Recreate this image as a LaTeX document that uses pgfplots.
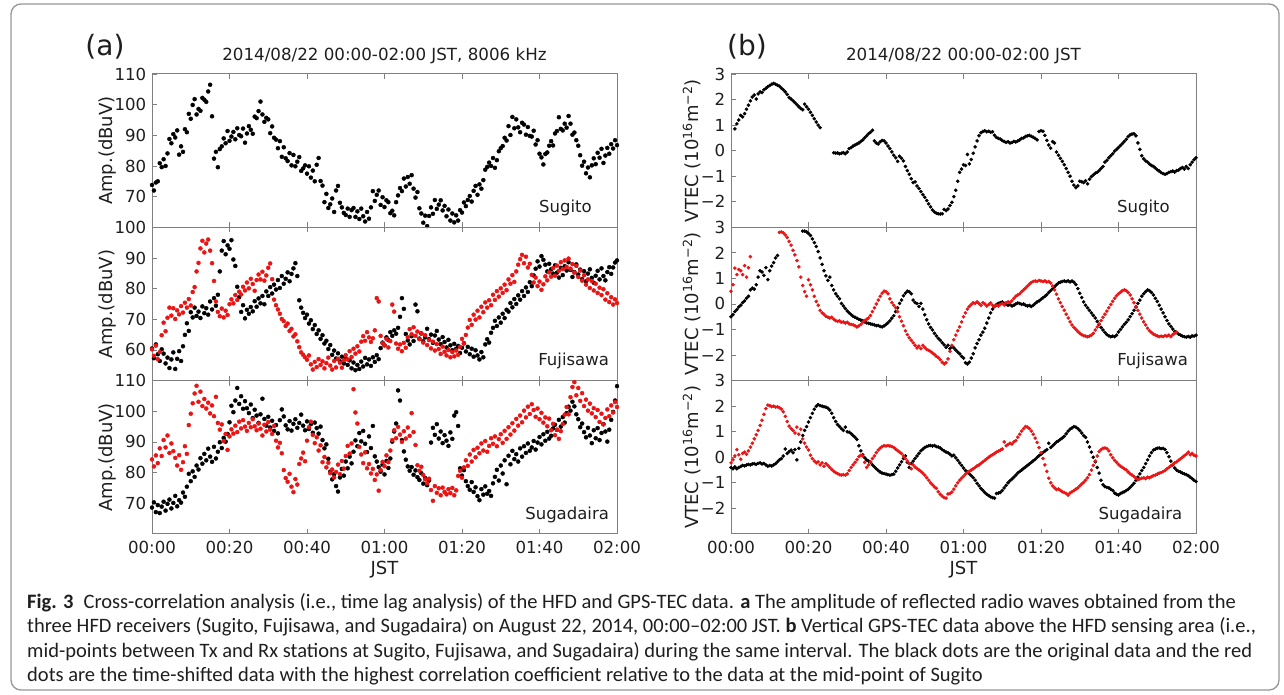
\documentclass[border=0pt]{standalone}
\usepackage{pgfplots}
\pgfplotsset{compat=1.18}
\usepackage{fontspec}
\setmainfont{DejaVu Sans}
\newfontfamily\capfont{Carlito}
\definecolor{axgray}{RGB}{128,128,128}
\definecolor{txt}{RGB}{30,30,30}
\definecolor{frm}{RGB}{150,150,150}
\definecolor{dred}{RGB}{235,20,20}
\newcommand\tk{\fontsize{16.6}{19}\selectfont}
\newcommand\lb{\fontsize{18}{21}\selectfont}
\newcommand\st{\fontsize{16.5}{19}\selectfont}
\newcommand\ttl{\fontsize{16.7}{19}\selectfont}
\tikzset{stn/.style={anchor=east, font=\st, text=txt, inner sep=0pt}}
\pgfplotsset{
 panel/.style={scale only axis, width=465pt, height=153.3pt, anchor=north west,
   xmin=0, xmax=120, xtick={0,20,40,60,80,100,120}, xticklabels={},
   /pgf/number format/assume math mode=true,
   axis line style={draw=axgray, line width=1pt},
   tick style={draw=axgray, line width=0.8pt},
   major tick length=5pt, tick align=inside, xtick pos=both, ytick pos=left,
   tick label style={font=\tk, text=txt, inner sep=0pt},
   yticklabel style={xshift=-5.5pt}, xticklabel style={yshift=-7pt},
   label style={font=\lb, text=txt, inner sep=0pt},
   title style={font=\ttl, text=txt, at={(axis description cs:0.5,1)}, anchor=south, yshift=4pt, inner sep=0pt},
 },
 apanel/.style={panel, ylabel={Amp.(dBuV)}, ylabel style={at={(axis description cs:-0.0946,0.5)}, anchor=center}},
 bpanel/.style={panel, ymin=-3, ymax=3, ytick={-2,-1,0,1,2,3}, yticklabels={−2,−1,0,1,2,3},
   ylabel={VTEC (10\textsuperscript{16}m\textsuperscript{−2})}, ylabel style={at={(axis description cs:-0.0845,0.5)}, anchor=center}},
 bottompanel/.style={xticklabels={00:00,00:20,00:40,01:00,01:20,01:40,02:00}, xlabel={JST},
   xlabel style={at={(axis description cs:0.5,0)}, anchor=north, yshift=-27.5pt}},
 blk/.style={only marks, mark=*, mark size=2.0pt, color=black},
 rd/.style={only marks, mark=*, mark size=2.0pt, color=dred},
 blkb/.style={only marks, mark=*, mark size=1.6pt, color=black},
 rdb/.style={only marks, mark=*, mark size=1.6pt, color=dred},
}
\begin{document}
\begin{tikzpicture}
\useasboundingbox (0,0) rectangle (1284pt,-695pt);
\draw[frm, line width=1.3pt, rounded corners=10pt] (11pt,-4pt) rectangle (1279pt,-690pt);
\node[font=\fontsize{28}{32}\selectfont, text=txt] at (105pt,-47pt) {(a)};
\node[font=\fontsize{28}{32}\selectfont, text=txt] at (747pt,-47pt) {(b)};

% ---------------- (a) Sugito
\begin{axis}[apanel, at={(152pt,-74pt)}, ymin=60, ymax=110, ytick={70,80,90,100,110},
  title={2014/08/22 00:00-02:00 JST, 8006 kHz}]
\addplot[blk] table[row sep=\\]{x y\\
0 73.8\\ 0.5 72.0\\ 1 74.6\\ 1.5 75.0\\ 2 80.9\\ 2.5 79.6\\ 3 82.2\\ 3.5 80.0\\ 4 84.1\\ 4.5 88.8\\ 5 87.4\\ 5.5 90.4\\ 6 89.3\\ 6.5 91.6\\ 7 83.7\\ 7.5 86.4\\ 8 84.6\\ 8.5 92.0\\ 9 91.0\\ 9.5 97.0\\ 10 95.4\\ 10.5 99.9\\ 11 101.8\\ 11.5 96.8\\ 12 98.6\\ 12.5 98.0\\ 13 102.2\\ 13.5 101.6\\ 14 100.9\\ 14.5 104.3\\ 15 106.5\\ 15.5 96.2\\ 16 82.4\\ 16.5 84.6\\ 17 79.6\\ 17.5 85.5\\ 18 86.4\\ 18.5 89.0\\ 19 87.4\\ 19.5 91.4\\ 20 88.2\\ 20.5 89.6\\ 21 91.1\\ 21.5 88.7\\ 22 92.3\\ 22.5 90.1\\ 23 89.7\\ 23.5 92.2\\ 24 87.6\\ 24.5 90.6\\ 25 93.0\\ 25.5 91.8\\ 26 90.5\\ 26.5 96.1\\ 27 95.6\\ 27.5 97.9\\ 28 101.0\\ 28.5 96.8\\ 29 94.4\\ 29.5 95.7\\ 30 95.2\\ 30.5 90.7\\ 31 92.9\\ 31.5 89.2\\ 32 88.6\\ 32.5 85.8\\ 33 88.1\\ 33.5 83.0\\ 34 86.1\\ 34.5 82.5\\ 35 81.6\\ 35.5 84.2\\ 36 80.2\\ 36.5 83.6\\ 37 79.9\\ 37.5 81.4\\ 38 82.9\\ 38.5 78.4\\ 39 79.2\\ 39.5 80.2\\ 40 77.5\\ 40.5 79.9\\ 41 76.2\\ 41.5 78.5\\ 42 75.0\\ 42.5 80.4\\ 43 82.6\\ 43.5 75.1\\ 44 73.6\\ 44.5 68.2\\ 45 70.9\\ 45.5 66.3\\ 46 67.5\\ 46.5 69.4\\ 47 65.0\\ 47.5 72.0\\ 48 73.5\\ 48.5 68.0\\ 49 66.5\\ 49.5 64.7\\ 50 64.0\\ 50.5 66.1\\ 51 63.4\\ 51.5 65.6\\ 52 66.3\\ 52.5 63.4\\ 53 65.2\\ 53.5 62.7\\ 54 66.1\\ 54.5 63.6\\ 55 61.9\\ 55.5 65.0\\ 56 62.8\\ 56.5 66.5\\ 57 71.8\\ 57.5 68.6\\ 58 70.6\\ 58.5 72.0\\ 59 67.3\\ 59.5 69.8\\ 60 66.6\\ 60.5 68.8\\ 61 68.2\\ 61.5 64.6\\ 62 65.4\\ 62.5 63.9\\ 63 68.2\\ 63.5 70.4\\ 64 72.8\\ 64.5 71.8\\ 65 75.9\\ 65.5 73.3\\ 66 76.4\\ 66.5 74.2\\ 67 77.0\\ 67.5 72.6\\ 68 69.7\\ 68.5 71.5\\ 69 66.2\\ 69.5 64.5\\ 70 61.5\\ 70.5 63.8\\ 71 60.4\\ 71.5 63.7\\ 72 66.5\\ 72.5 64.4\\ 73 68.9\\ 73.5 66.0\\ 74 67.4\\ 74.5 68.8\\ 75 65.5\\ 75.5 67.0\\ 76 63.6\\ 76.5 65.8\\ 77 62.2\\ 77.5 64.5\\ 78 61.6\\ 78.5 63.9\\ 79 62.2\\ 79.5 65.6\\ 80 64.8\\ 80.5 68.1\\ 81 66.9\\ 81.5 68.9\\ 82 70.2\\ 82.5 68.4\\ 83 71.9\\ 83.5 73.5\\ 84 70.6\\ 84.5 74.0\\ 85 72.6\\ 85.5 75.4\\ 86 78.8\\ 86.5 79.7\\ 87 81.1\\ 87.5 80.0\\ 88 82.6\\ 88.5 79.4\\ 89 81.9\\ 89.5 84.8\\ 90 85.8\\ 90.5 86.5\\ 91 89.2\\ 91.5 88.3\\ 92 93.0\\ 92.5 90.1\\ 93 96.0\\ 93.5 92.3\\ 94 95.2\\ 94.5 92.6\\ 95 91.0\\ 95.5 94.1\\ 96 93.5\\ 96.5 90.2\\ 97 92.7\\ 97.5 89.8\\ 98 89.6\\ 98.5 91.5\\ 99 87.0\\ 99.5 88.4\\ 100 84.0\\ 100.5 82.8\\ 101 80.5\\ 101.5 83.9\\ 102 84.4\\ 102.5 86.6\\ 103 88.1\\ 103.5 86.7\\ 104 90.6\\ 104.5 91.4\\ 105 95.9\\ 105.5 92.1\\ 106 91.6\\ 106.5 93.8\\ 107 92.5\\ 107.5 96.3\\ 108 93.8\\ 108.5 90.2\\ 109 90.9\\ 109.5 88.4\\ 110 86.6\\ 110.5 83.5\\ 111 80.1\\ 111.5 81.4\\ 112 77.6\\ 112.5 79.5\\ 113 76.3\\ 113.5 80.2\\ 114 82.5\\ 114.5 80.6\\ 115 84.3\\ 115.5 82.7\\ 116 85.6\\ 116.5 81.0\\ 117 83.4\\ 117.5 85.9\\ 118 84.0\\ 118.5 87.1\\ 119 85.7\\ 119.5 88.4\\ 120 86.8\\
};
\node[stn] at (rel axis cs:0.946,0.125) {Sugito};
\end{axis}

% ---------------- (a) Fujisawa
\begin{axis}[apanel, at={(152pt,-227.3pt)}, ymin=50, ymax=100, ytick={60,70,80,90,100}]
\addplot[blk] table[row sep=\\]{x y\\
0 60.5\\ 0.5 57.3\\ 1 61.8\\ 1.5 58.6\\ 2 56.4\\ 2.5 60.2\\ 3 58.8\\ 3.5 55.6\\ 4 57.5\\ 4.5 54.1\\ 5 56.9\\ 5.5 59.2\\ 6 53.8\\ 6.5 57.1\\ 7 59.6\\ 7.5 56.4\\ 8 61.2\\ 8.5 64.9\\ 9 68.7\\ 9.5 66.2\\ 10 72.3\\ 10.5 70.6\\ 11 73.8\\ 11.5 71.1\\ 12 72.5\\ 12.5 70.4\\ 13 74.2\\ 13.5 72.0\\ 14 73.6\\ 14.5 71.5\\ 15 75.8\\ 15.5 73.2\\ 16 76.9\\ 16.5 74.4\\ 17 78.0\\ 17.5 85.6\\ 18 92.4\\ 18.5 95.5\\ 19 91.2\\ 19.5 94.1\\ 20 93.0\\ 20.5 95.8\\ 21 89.5\\ 21.5 87.4\\ 22 80.6\\ 22.5 77.2\\ 23 72.4\\ 23.5 74.6\\ 24 70.3\\ 24.5 73.1\\ 25 71.8\\ 25.5 74.0\\ 26 72.6\\ 26.5 75.9\\ 27 74.1\\ 27.5 76.8\\ 28 75.2\\ 28.5 77.6\\ 29 74.9\\ 29.5 79.1\\ 30 77.6\\ 30.5 80.5\\ 31 78.4\\ 31.5 81.3\\ 32 79.7\\ 32.5 82.8\\ 33 80.2\\ 33.5 84.1\\ 34 81.6\\ 34.5 83.2\\ 35 85.3\\ 35.5 82.4\\ 36 84.8\\ 36.5 86.6\\ 37 88.3\\ 37.5 84.1\\ 38 76.2\\ 38.5 73.8\\ 39 72.1\\ 39.5 70.4\\ 40 71.5\\ 40.5 68.6\\ 41 69.7\\ 41.5 66.8\\ 42 68.1\\ 42.5 65.2\\ 43 66.4\\ 43.5 63.6\\ 44 64.8\\ 44.5 62.1\\ 45 63.0\\ 45.5 60.3\\ 46 61.6\\ 46.5 58.4\\ 47 59.8\\ 47.5 57.2\\ 48 58.9\\ 48.5 56.3\\ 49 57.8\\ 49.5 55.6\\ 50 57.2\\ 50.5 55.1\\ 51 56.6\\ 51.5 54.0\\ 52 55.9\\ 52.5 53.4\\ 53 55.1\\ 53.5 53.8\\ 54 56.2\\ 54.5 54.6\\ 55 57.4\\ 55.5 55.3\\ 56 56.9\\ 56.5 54.8\\ 57 57.6\\ 57.5 56.1\\ 58 58.3\\ 58.5 57.0\\ 59 60.6\\ 59.5 62.4\\ 60 61.5\\ 60.5 64.1\\ 61 63.2\\ 61.5 65.8\\ 62 64.6\\ 62.5 66.4\\ 63 65.3\\ 63.5 67.2\\ 64 70.8\\ 64.5 76.9\\ 65 73.4\\ 65.5 65.2\\ 66 63.1\\ 66.5 61.8\\ 67 64.5\\ 67.5 62.9\\ 68 74.8\\ 68.5 72.6\\ 69 63.7\\ 69.5 65.4\\ 70 62.8\\ 70.5 64.1\\ 71 66.9\\ 71.5 63.5\\ 72 65.0\\ 72.5 62.3\\ 73 64.7\\ 73.5 66.2\\ 74 63.4\\ 74.5 61.9\\ 75 64.2\\ 75.5 62.6\\ 76 60.8\\ 76.5 63.3\\ 77 61.5\\ 77.5 59.9\\ 78 62.0\\ 78.5 60.4\\ 79 61.3\\ 79.5 59.0\\ 80 60.7\\ 80.5 62.2\\ 81 59.5\\ 81.5 61.0\\ 82 58.6\\ 82.5 60.4\\ 83 57.8\\ 83.5 59.9\\ 84 58.2\\ 84.5 56.9\\ 85 59.3\\ 85.5 57.6\\ 86 61.8\\ 86.5 63.5\\ 87 62.4\\ 87.5 65.6\\ 88 67.2\\ 88.5 69.5\\ 89 67.8\\ 89.5 70.6\\ 90 68.9\\ 90.5 71.8\\ 91 70.4\\ 91.5 73.1\\ 92 72.5\\ 92.5 75.3\\ 93 73.9\\ 93.5 76.6\\ 94 75.0\\ 94.5 77.8\\ 95 76.4\\ 95.5 79.2\\ 96 77.6\\ 96.5 80.4\\ 97 78.9\\ 97.5 82.1\\ 98 80.8\\ 98.5 84.3\\ 99 86.5\\ 99.5 88.9\\ 100 87.2\\ 100.5 90.6\\ 101 89.4\\ 101.5 87.8\\ 102 85.6\\ 102.5 88.1\\ 103 86.3\\ 103.5 84.9\\ 104 87.6\\ 104.5 85.2\\ 105 83.6\\ 105.5 86.8\\ 106 84.4\\ 106.5 87.3\\ 107 85.9\\ 107.5 88.6\\ 108 86.1\\ 108.5 83.8\\ 109 85.4\\ 109.5 87.9\\ 110 84.6\\ 110.5 86.2\\ 111 83.1\\ 111.5 85.7\\ 112 82.4\\ 112.5 84.9\\ 113 86.3\\ 113.5 83.5\\ 114 81.9\\ 114.5 84.2\\ 115 85.8\\ 115.5 83.0\\ 116 86.6\\ 116.5 84.1\\ 117 82.7\\ 117.5 85.4\\ 118 87.0\\ 118.5 84.8\\ 119 86.9\\ 119.5 88.5\\ 120 89.2\\
};
\addplot[rd] table[row sep=\\]{x y\\
0 60.2\\ 0.5 58.1\\ 1 61.4\\ 1.5 57.0\\ 2 59.3\\ 2.5 64.8\\ 3 68.9\\ 3.5 66.1\\ 4 70.5\\ 4.5 73.8\\ 5 71.2\\ 5.5 73.6\\ 6 70.1\\ 6.5 72.9\\ 7 71.6\\ 7.5 74.3\\ 8 72.2\\ 8.5 75.4\\ 9 73.8\\ 9.5 76.6\\ 10 74.5\\ 10.5 78.9\\ 11 80.5\\ 11.5 85.6\\ 12 88.4\\ 12.5 93.1\\ 13 95.6\\ 13.5 91.8\\ 14 94.7\\ 14.5 96.0\\ 15 92.4\\ 15.5 88.3\\ 16 82.5\\ 16.5 75.8\\ 17 72.4\\ 17.5 71.0\\ 18 73.5\\ 18.5 70.6\\ 19 72.8\\ 19.5 71.4\\ 20 74.9\\ 20.5 76.5\\ 21 75.2\\ 21.5 77.9\\ 22 76.3\\ 22.5 79.0\\ 23 78.1\\ 23.5 80.6\\ 24 79.4\\ 24.5 82.0\\ 25 80.1\\ 25.5 83.2\\ 26 81.5\\ 26.5 79.3\\ 27 82.8\\ 27.5 84.6\\ 28 83.0\\ 28.5 85.5\\ 29 82.6\\ 29.5 84.3\\ 30 86.8\\ 30.5 88.2\\ 31 83.1\\ 31.5 76.4\\ 32 74.6\\ 32.5 73.2\\ 33 71.8\\ 33.5 70.1\\ 34 69.4\\ 34.5 67.8\\ 35 68.6\\ 35.5 66.2\\ 36 66.9\\ 36.5 64.4\\ 37 65.1\\ 37.5 62.8\\ 38 60.9\\ 38.5 59.2\\ 39 58.4\\ 39.5 57.6\\ 40 56.8\\ 40.5 58.2\\ 41 55.3\\ 41.5 53.6\\ 42 56.1\\ 42.5 54.4\\ 43 57.0\\ 43.5 55.1\\ 44 56.3\\ 44.5 54.0\\ 45 55.7\\ 45.5 57.5\\ 46 54.9\\ 46.5 53.6\\ 47 56.4\\ 47.5 54.3\\ 48 57.1\\ 48.5 55.8\\ 49 54.2\\ 49.5 56.6\\ 50 58.3\\ 50.5 56.9\\ 51 59.6\\ 51.5 57.7\\ 52 60.4\\ 52.5 58.8\\ 53 61.2\\ 53.5 59.5\\ 54 62.7\\ 54.5 64.5\\ 55 63.0\\ 55.5 65.8\\ 56 64.1\\ 56.5 62.6\\ 57 63.8\\ 57.5 66.4\\ 58 76.9\\ 58.5 75.8\\ 59 64.6\\ 59.5 62.2\\ 60 61.5\\ 60.5 63.6\\ 61 60.8\\ 61.5 62.9\\ 62 74.8\\ 62.5 72.5\\ 63 62.1\\ 63.5 60.4\\ 64 61.8\\ 64.5 59.6\\ 65 62.3\\ 65.5 60.7\\ 66 64.2\\ 66.5 66.8\\ 67 65.1\\ 67.5 67.4\\ 68 64.6\\ 68.5 66.0\\ 69 63.5\\ 69.5 65.3\\ 70 62.4\\ 70.5 64.8\\ 71 61.6\\ 71.5 63.2\\ 72 60.5\\ 72.5 62.7\\ 73 59.8\\ 73.5 61.9\\ 74 60.3\\ 74.5 58.7\\ 75 61.1\\ 75.5 59.4\\ 76 58.2\\ 76.5 60.0\\ 77 57.6\\ 77.5 59.3\\ 78 57.9\\ 78.5 59.8\\ 79 58.4\\ 79.5 61.0\\ 80 63.6\\ 80.5 62.1\\ 81 64.9\\ 81.5 67.3\\ 82 69.8\\ 82.5 68.2\\ 83 71.5\\ 83.5 69.9\\ 84 72.8\\ 84.5 70.6\\ 85 74.1\\ 85.5 72.3\\ 86 75.5\\ 86.5 73.8\\ 87 76.2\\ 87.5 74.6\\ 88 78.0\\ 88.5 76.3\\ 89 79.2\\ 89.5 77.4\\ 90 80.1\\ 90.5 78.6\\ 91 81.3\\ 91.5 79.5\\ 92 83.0\\ 92.5 81.6\\ 93 84.4\\ 93.5 82.2\\ 94 85.6\\ 94.5 87.8\\ 95 89.6\\ 95.5 91.0\\ 96 88.3\\ 96.5 90.4\\ 97 86.9\\ 97.5 88.1\\ 98 84.5\\ 98.5 82.0\\ 99 83.6\\ 99.5 80.8\\ 100 82.3\\ 100.5 79.6\\ 101 81.4\\ 101.5 84.0\\ 102 82.7\\ 102.5 85.3\\ 103 83.9\\ 103.5 86.7\\ 104 84.2\\ 104.5 87.5\\ 105 85.8\\ 105.5 88.6\\ 106 86.4\\ 106.5 89.2\\ 107 87.1\\ 107.5 89.8\\ 108 86.5\\ 108.5 88.0\\ 109 85.2\\ 109.5 87.4\\ 110 83.8\\ 110.5 85.9\\ 111 82.6\\ 111.5 84.4\\ 112 81.3\\ 112.5 83.0\\ 113 80.2\\ 113.5 82.5\\ 114 79.4\\ 114.5 81.6\\ 115 78.6\\ 115.5 80.3\\ 116 77.9\\ 116.5 79.8\\ 117 76.4\\ 117.5 78.5\\ 118 75.6\\ 118.5 77.2\\ 119 74.8\\ 119.5 76.5\\ 120 75.3\\
};
\node[stn] at (rel axis cs:0.983,0.125) {Fujisawa};
\end{axis}

% ---------------- (a) Sugadaira
\begin{axis}[apanel, bottompanel, at={(152pt,-380.6pt)}, ymin=60, ymax=110, ytick={70,80,90,100,110}]
\addplot[blk] table[row sep=\\]{x y\\
0 68.6\\ 0.5 70.3\\ 1 67.1\\ 1.5 69.4\\ 2 66.8\\ 2.5 68.9\\ 3 70.5\\ 3.5 67.6\\ 4 69.8\\ 4.5 71.2\\ 5 68.3\\ 5.5 70.1\\ 6 72.4\\ 6.5 69.0\\ 7 71.0\\ 7.5 70.2\\ 8 73.5\\ 8.5 72.1\\ 9 75.4\\ 9.5 79.6\\ 10 77.2\\ 10.5 80.4\\ 11 78.6\\ 11.5 82.3\\ 12 81.0\\ 12.5 84.7\\ 13 82.9\\ 13.5 86.1\\ 14 84.0\\ 14.5 87.8\\ 15 85.2\\ 15.5 83.5\\ 16 88.4\\ 16.5 84.6\\ 17 86.8\\ 17.5 89.9\\ 18 88.0\\ 18.5 91.3\\ 19 90.1\\ 19.5 92.6\\ 20 96.4\\ 20.5 101.8\\ 21 99.7\\ 21.5 103.5\\ 22 107.6\\ 22.5 102.4\\ 23 104.9\\ 23.5 100.8\\ 24 103.3\\ 24.5 101.0\\ 25 99.4\\ 25.5 102.2\\ 26 97.8\\ 26.5 100.5\\ 27 98.6\\ 27.5 96.2\\ 28 99.0\\ 28.5 104.1\\ 29 97.5\\ 29.5 95.3\\ 30 98.2\\ 30.5 94.7\\ 31 96.9\\ 31.5 93.6\\ 32 95.5\\ 32.5 92.8\\ 33 97.1\\ 33.5 100.6\\ 34 98.3\\ 34.5 95.4\\ 35 94.1\\ 35.5 96.8\\ 36 93.7\\ 36.5 95.9\\ 37 97.4\\ 37.5 94.6\\ 38 96.2\\ 38.5 98.9\\ 39 95.3\\ 39.5 93.8\\ 40 96.7\\ 40.5 94.2\\ 41 95.8\\ 41.5 93.0\\ 42 96.3\\ 42.5 94.5\\ 43 92.7\\ 43.5 95.0\\ 44 90.6\\ 44.5 87.9\\ 45 89.2\\ 45.5 84.5\\ 46 80.3\\ 46.5 77.8\\ 47 79.5\\ 47.5 75.6\\ 48 73.8\\ 48.5 78.4\\ 49 81.2\\ 49.5 79.0\\ 50 83.6\\ 50.5 81.4\\ 51 85.2\\ 51.5 83.0\\ 52 86.8\\ 52.5 90.5\\ 53 88.6\\ 53.5 92.9\\ 54 90.2\\ 54.5 93.6\\ 55 89.4\\ 55.5 86.7\\ 56 91.8\\ 56.5 88.0\\ 57 95.2\\ 57.5 85.3\\ 58 83.6\\ 58.5 81.8\\ 59 80.3\\ 59.5 82.6\\ 60 79.4\\ 60.5 83.8\\ 61 81.5\\ 61.5 84.6\\ 62 90.1\\ 62.5 93.4\\ 63 96.0\\ 63.5 106.8\\ 64 103.5\\ 64.5 90.6\\ 65 86.9\\ 65.5 84.2\\ 66 82.0\\ 66.5 80.6\\ 67 81.8\\ 67.5 79.3\\ 68 80.7\\ 68.5 78.5\\ 69 77.6\\ 69.5 79.8\\ 70 76.4\\ 70.5 78.2\\ 71 75.9\\ 71.5 77.4\\ 72 89.8\\ 72.5 94.6\\ 73 92.3\\ 73.5 95.8\\ 74 91.1\\ 74.5 93.4\\ 75 89.6\\ 75.5 92.2\\ 76 90.4\\ 76.5 88.7\\ 77 93.1\\ 77.5 91.0\\ 78 98.6\\ 78.5 99.7\\ 79 95.2\\ 79.5 81.4\\ 80 79.0\\ 80.5 80.8\\ 81 77.2\\ 81.5 75.6\\ 82 74.4\\ 82.5 76.9\\ 83 73.7\\ 83.5 75.2\\ 84 72.3\\ 84.5 71.0\\ 85 74.6\\ 85.5 72.8\\ 86 75.5\\ 86.5 73.1\\ 87 74.0\\ 87.5 72.4\\ 88 76.5\\ 88.5 78.6\\ 89 80.9\\ 89.5 77.4\\ 90 82.3\\ 90.5 79.7\\ 91 84.0\\ 91.5 76.2\\ 92 85.5\\ 92.5 82.7\\ 93 87.1\\ 93.5 84.4\\ 94 86.0\\ 94.5 83.6\\ 95 87.9\\ 95.5 85.2\\ 96 88.6\\ 96.5 86.4\\ 97 89.5\\ 97.5 87.1\\ 98 88.2\\ 98.5 90.3\\ 99 87.5\\ 99.5 89.8\\ 100 91.6\\ 100.5 89.2\\ 101 92.5\\ 101.5 90.4\\ 102 93.3\\ 102.5 91.1\\ 103 92.0\\ 103.5 94.4\\ 104 95.6\\ 104.5 93.9\\ 105 97.2\\ 105.5 95.0\\ 106 98.1\\ 106.5 96.3\\ 107 99.4\\ 107.5 101.5\\ 108 100.2\\ 108.5 103.1\\ 109 101.6\\ 109.5 99.0\\ 110 97.4\\ 110.5 94.8\\ 111 96.0\\ 111.5 93.2\\ 112 91.5\\ 112.5 94.6\\ 113 92.1\\ 113.5 89.6\\ 114 93.8\\ 114.5 91.2\\ 115 94.5\\ 115.5 90.6\\ 116 92.9\\ 116.5 95.8\\ 117 93.4\\ 117.5 90.1\\ 118 94.0\\ 118.5 97.2\\ 119 99.8\\ 119.5 103.5\\ 120 108.2\\
};
\addplot[rd] table[row sep=\\]{x y\\
0 84.3\\ 0.5 82.0\\ 1 85.6\\ 1.5 83.1\\ 2 87.9\\ 2.5 85.4\\ 3 90.6\\ 3.5 88.2\\ 4 92.1\\ 4.5 86.4\\ 5 89.5\\ 5.5 87.0\\ 6 84.8\\ 6.5 82.3\\ 7 85.7\\ 7.5 80.9\\ 8 83.4\\ 8.5 88.6\\ 9 86.1\\ 9.5 95.5\\ 10 99.2\\ 10.5 102.6\\ 11 105.8\\ 11.5 108.3\\ 12 103.1\\ 12.5 106.4\\ 13 101.7\\ 13.5 104.0\\ 14 100.9\\ 14.5 102.8\\ 15 99.3\\ 15.5 101.9\\ 16 98.4\\ 16.5 104.7\\ 17 96.2\\ 17.5 94.0\\ 18 95.7\\ 18.5 90.3\\ 19 92.6\\ 19.5 87.4\\ 20 91.8\\ 20.5 94.1\\ 21 92.7\\ 21.5 95.3\\ 22 93.2\\ 22.5 96.6\\ 23 94.4\\ 23.5 97.1\\ 24 95.0\\ 24.5 93.6\\ 25 96.2\\ 25.5 94.8\\ 26 97.4\\ 26.5 95.1\\ 27 93.8\\ 27.5 96.0\\ 28 94.3\\ 28.5 92.1\\ 29 95.6\\ 29.5 93.4\\ 30 96.5\\ 30.5 94.0\\ 31 92.6\\ 31.5 95.2\\ 32 90.4\\ 32.5 88.2\\ 33 89.7\\ 33.5 86.3\\ 34 80.8\\ 34.5 78.2\\ 35 77.0\\ 35.5 79.6\\ 36 75.4\\ 36.5 73.6\\ 37 77.9\\ 37.5 76.1\\ 38 82.8\\ 38.5 84.6\\ 39 86.5\\ 39.5 83.7\\ 40 90.4\\ 40.5 94.8\\ 41 96.6\\ 41.5 92.3\\ 42 89.6\\ 42.5 91.5\\ 43 87.2\\ 43.5 88.9\\ 44 83.4\\ 44.5 85.1\\ 45 81.7\\ 45.5 83.2\\ 46 79.8\\ 46.5 81.0\\ 47 78.4\\ 47.5 80.2\\ 48 82.6\\ 48.5 79.5\\ 49 83.8\\ 49.5 81.3\\ 50 85.4\\ 50.5 88.7\\ 51 86.2\\ 51.5 89.5\\ 52 107.2\\ 52.5 99.6\\ 53 96.0\\ 53.5 88.4\\ 54 85.9\\ 54.5 83.1\\ 55 86.6\\ 55.5 81.4\\ 56 82.8\\ 56.5 79.7\\ 57 81.2\\ 57.5 77.6\\ 58 79.4\\ 58.5 74.1\\ 59 80.8\\ 59.5 83.5\\ 60 82.1\\ 60.5 85.6\\ 61 83.4\\ 61.5 87.2\\ 62 90.6\\ 62.5 93.8\\ 63 91.2\\ 63.5 94.9\\ 64 92.4\\ 64.5 90.0\\ 65 93.5\\ 65.5 91.1\\ 66 94.7\\ 66.5 92.0\\ 67 99.4\\ 67.5 93.2\\ 68 89.0\\ 68.5 82.4\\ 69 80.6\\ 69.5 81.9\\ 70 79.2\\ 70.5 77.8\\ 71 76.5\\ 71.5 78.0\\ 72 74.3\\ 72.5 70.8\\ 73 75.6\\ 73.5 73.4\\ 74 74.9\\ 74.5 72.6\\ 75 75.1\\ 75.5 73.7\\ 76 72.9\\ 76.5 74.6\\ 77 73.3\\ 77.5 75.0\\ 78 72.6\\ 78.5 74.2\\ 79 78.9\\ 79.5 80.6\\ 80 78.3\\ 80.5 81.7\\ 81 84.0\\ 81.5 82.2\\ 82 85.9\\ 82.5 83.6\\ 83 87.4\\ 83.5 85.0\\ 84 88.1\\ 84.5 86.3\\ 85 89.5\\ 85.5 87.2\\ 86 90.3\\ 86.5 86.8\\ 87 88.7\\ 87.5 91.2\\ 88 89.4\\ 88.5 91.8\\ 89 88.6\\ 89.5 90.9\\ 90 92.5\\ 90.5 89.7\\ 91 93.6\\ 91.5 91.0\\ 92 94.8\\ 92.5 92.4\\ 93 96.1\\ 93.5 93.7\\ 94 97.5\\ 94.5 95.3\\ 95 98.6\\ 95.5 96.4\\ 96 100.2\\ 96.5 98.0\\ 97 101.5\\ 97.5 99.1\\ 98 102.3\\ 98.5 100.4\\ 99 98.2\\ 99.5 100.9\\ 100 97.4\\ 100.5 99.5\\ 101 96.3\\ 101.5 98.0\\ 102 95.1\\ 102.5 97.6\\ 103 93.8\\ 103.5 95.9\\ 104 92.2\\ 104.5 94.0\\ 105 91.0\\ 105.5 93.5\\ 106 95.8\\ 106.5 98.9\\ 107 101.4\\ 107.5 99.0\\ 108 104.6\\ 108.5 107.9\\ 109 109.5\\ 109.5 105.2\\ 110 107.6\\ 110.5 103.4\\ 111 105.9\\ 111.5 101.7\\ 112 103.8\\ 112.5 100.2\\ 113 102.5\\ 113.5 99.3\\ 114 101.0\\ 114.5 98.1\\ 115 100.4\\ 115.5 96.5\\ 116 99.2\\ 116.5 95.7\\ 117 97.8\\ 117.5 100.6\\ 118 98.4\\ 118.5 101.9\\ 119 99.6\\ 119.5 103.0\\ 120 101.4\\
};
\node[stn] at (rel axis cs:0.983,0.125) {Sugadaira};
\end{axis}

% ---------------- (b) Sugito
\begin{axis}[bpanel, at={(731pt,-74pt)}, title={2014/08/22 00:00-02:00 JST}]
\addplot[blkb] table[row sep=\\]{x y\\
1 0.85\\ 1.5 1.05\\ 2 1.20\\ 2.5 1.38\\ 3 1.32\\ 3.5 1.45\\ 4 1.62\\ 4.5 1.78\\ 5 1.95\\ 5.5 2.10\\ 6 2.18\\ 6.5 2.02\\ 7 2.22\\ 7.5 2.30\\ 8 2.28\\ 8.5 2.38\\ 9 2.44\\ 9.5 2.50\\ 10 2.55\\ 10.5 2.60\\ 11 2.63\\ 11.5 2.60\\ 12 2.56\\ 12.5 2.52\\ 13 2.45\\ 13.5 2.38\\ 14 2.30\\ 14.5 2.20\\ 15 2.08\\ 15.5 2.02\\ 16 1.95\\ 16.5 1.88\\ 17 1.80\\ 17.5 1.72\\ 18 1.65\\ 18.5 1.60\\ 19 1.82\\ 19.5 1.72\\ 20 1.62\\ 20.5 1.50\\ 21 1.38\\ 21.5 1.25\\ 22 1.12\\ 22.5 1.00\\ 23 0.90\\
26.5 -0.08\\ 27 -0.10\\ 27.5 -0.09\\ 28 -0.12\\ 28.5 -0.10\\ 29 -0.08\\ 29.5 -0.12\\ 30 -0.05\\ 30.5 0.08\\ 31 0.12\\ 31.5 0.18\\ 32 0.22\\ 32.5 0.26\\ 33 0.30\\ 33.5 0.36\\ 34 0.42\\ 34.5 0.50\\ 35 0.58\\ 35.5 0.66\\ 36 0.72\\ 36.5 0.80\\ 37 0.38\\ 37.5 0.30\\ 38 0.26\\ 38.5 0.35\\ 39 0.40\\ 39.5 0.38\\ 40 0.30\\ 40.5 0.18\\ 41 0.08\\ 41.5 -0.05\\ 42 -0.18\\ 42.5 -0.28\\ 43 -0.42\\ 43.5 -0.22\\ 44 -0.30\\ 44.5 -0.40\\ 45 -0.62\\ 45.5 -0.78\\ 46 -0.92\\ 46.5 -1.10\\ 47 -1.25\\ 47.5 -1.22\\ 48 -1.38\\ 48.5 -1.48\\ 49 -1.60\\ 49.5 -1.72\\ 50 -1.82\\ 50.5 -1.95\\ 51 -2.08\\ 51.5 -2.20\\ 52 -2.32\\ 52.5 -2.40\\ 53 -2.45\\ 53.5 -2.47\\ 54 -2.48\\ 54.5 -2.47\\ 55 -2.30\\ 55.5 -2.35\\ 56 -2.28\\ 56.5 -2.15\\ 57 -2.02\\ 57.5 -1.80\\ 58 -1.55\\ 58.5 -1.20\\ 59 -0.85\\ 59.5 -0.72\\ 60 -0.55\\ 60.5 -0.58\\ 61 -0.15\\ 61.5 -0.52\\ 62 -0.35\\ 62.5 -0.10\\ 63 0.15\\ 63.5 0.38\\ 64 0.58\\ 64.5 0.70\\ 65 0.75\\ 65.5 0.78\\ 66 0.74\\ 66.5 0.76\\ 67 0.72\\ 67.5 0.74\\ 68 0.60\\ 68.5 0.52\\ 69 0.48\\ 69.5 0.45\\ 70 0.40\\ 70.5 0.36\\ 71 0.32\\ 71.5 0.35\\ 72 0.30\\ 72.5 0.32\\ 73 0.36\\ 73.5 0.34\\ 74 0.38\\ 74.5 0.42\\ 75 0.48\\ 75.5 0.50\\ 76 0.55\\ 76.5 0.58\\ 77 0.60\\ 77.5 0.56\\ 78 0.52\\ 78.5 0.48\\ 79 0.42\\ 79.5 0.75\\ 80 0.78\\ 80.5 0.76\\ 81 0.60\\ 81.5 0.40\\ 82 0.22\\ 82.5 0.10\\ 83 0.35\\ 83.5 0.30\\ 84 -0.05\\ 84.5 -0.18\\ 85 -0.30\\ 85.5 -0.42\\ 86 -0.55\\ 86.5 -0.70\\ 87 -0.85\\ 87.5 -1.00\\ 88 -1.20\\ 88.5 -1.35\\ 89 -1.45\\ 89.5 -1.38\\ 90 -1.20\\ 90.5 -1.22\\ 91 -1.25\\ 91.5 -1.18\\ 92 -1.30\\ 92.5 -1.12\\ 93 -1.02\\ 93.5 -0.95\\ 94 -0.88\\ 94.5 -0.85\\ 95 -0.78\\ 95.5 -0.70\\ 96 -0.62\\ 96.5 -0.45\\ 97 -0.38\\ 97.5 -0.28\\ 98 -0.20\\ 98.5 -0.12\\ 99 -0.02\\ 99.5 0.05\\ 100 0.12\\ 100.5 0.20\\ 101 0.28\\ 101.5 0.36\\ 102 0.45\\ 102.5 0.55\\ 103 0.62\\ 103.5 0.65\\ 104 0.66\\ 104.5 0.58\\ 105 0.30\\ 105.5 0.05\\ 106 -0.20\\ 106.5 -0.32\\ 107 -0.40\\ 107.5 -0.45\\ 108 -0.52\\ 108.5 -0.58\\ 109 -0.62\\ 109.5 -0.68\\ 110 -0.75\\ 110.5 -0.80\\ 111 -0.86\\ 111.5 -0.90\\ 112 -0.92\\ 112.5 -0.90\\ 113 -0.85\\ 113.5 -0.82\\ 114 -0.80\\ 114.5 -0.84\\ 115 -0.78\\ 115.5 -0.76\\ 116 -0.70\\ 116.5 -0.66\\ 117 -0.72\\ 117.5 -0.62\\ 118 -0.70\\ 118.5 -0.55\\ 119 -0.45\\ 119.5 -0.35\\ 120 -0.28\\
};
\node[stn] at (rel axis cs:0.944,0.125) {Sugito};
\end{axis}

% ---------------- (b) Fujisawa
\begin{axis}[bpanel, at={(731pt,-227.3pt)}]
\addplot[blkb] table[row sep=\\]{x y\\
0 -0.50\\ 0.5 -0.42\\ 1 -0.30\\ 1.5 -0.22\\ 2 -0.12\\ 2.5 -0.05\\ 3 0.05\\ 3.5 0.12\\ 4 0.22\\ 4.5 0.30\\ 5 0.55\\ 5.5 0.62\\ 6 0.58\\ 6.5 0.75\\ 7 1.05\\ 7.5 1.30\\ 8 1.25\\ 8.5 1.12\\ 9 1.42\\ 9.5 0.95\\ 10 1.30\\ 10.5 1.48\\ 11 1.62\\ 11.5 1.80\\ 12 1.90\\
18.5 2.85\\ 19 2.85\\ 19.5 2.82\\ 20 2.76\\ 20.5 2.68\\ 21 2.55\\ 21.5 2.40\\ 22 2.25\\ 22.5 2.05\\ 23 1.80\\ 23.5 1.55\\ 24 1.30\\ 24.5 1.10\\ 25 0.92\\ 25.5 1.05\\ 26 0.72\\ 26.5 0.55\\ 27 0.40\\ 27.5 0.30\\ 28 0.20\\ 28.5 0.02\\ 29 -0.08\\ 29.5 -0.18\\ 30 -0.28\\ 30.5 -0.35\\ 31 -0.42\\ 31.5 -0.48\\ 32 -0.52\\ 32.5 -0.56\\ 33 -0.60\\ 33.5 -0.63\\ 34 -0.66\\ 34.5 -0.70\\ 35 -0.74\\ 35.5 -0.76\\ 36 -0.78\\ 36.5 -0.80\\ 37 -0.82\\ 37.5 -0.85\\ 38 -0.84\\ 38.5 -0.88\\ 39 -0.90\\ 39.5 -0.86\\ 40 -0.80\\ 40.5 -0.74\\ 41 -0.66\\ 41.5 -0.56\\ 42 -0.46\\ 42.5 -0.30\\ 43 -0.15\\ 43.5 0.02\\ 44 0.15\\ 44.5 0.32\\ 45 0.42\\ 45.5 0.50\\ 46 0.48\\ 46.5 0.40\\ 47 0.15\\ 47.5 0.05\\ 48 0.02\\ 48.5 -0.10\\ 49 0.02\\ 49.5 -0.20\\ 50 -0.42\\ 50.5 -0.62\\ 51 -0.78\\ 51.5 -0.92\\ 52 -1.02\\ 52.5 -1.15\\ 53 -1.25\\ 53.5 -1.35\\ 54 -1.42\\ 54.5 -1.52\\ 55 -1.60\\ 55.5 -1.70\\ 56 -1.62\\ 56.5 -1.75\\ 57 -1.68\\ 57.5 -1.72\\ 58 -1.80\\ 58.5 -1.88\\ 59 -1.95\\ 59.5 -2.05\\ 60 -2.12\\ 60.5 -2.30\\ 61 -2.35\\ 61.5 -2.28\\ 62 -2.12\\ 62.5 -1.95\\ 63 -1.72\\ 63.5 -1.55\\ 64 -1.40\\ 64.5 -1.22\\ 65 -1.10\\ 65.5 -0.95\\ 66 -0.75\\ 66.5 -0.55\\ 67 -0.35\\ 67.5 -0.20\\ 68 -0.10\\ 68.5 -0.02\\ 69 0.02\\ 69.5 0.05\\ 70 0.08\\ 70.5 0.02\\ 71 -0.02\\ 71.5 -0.05\\ 72 -0.03\\ 72.5 -0.08\\ 73 -0.05\\ 73.5 0.00\\ 74 0.04\\ 74.5 0.02\\ 75 -0.02\\ 75.5 0.00\\ 76 -0.05\\ 76.5 -0.08\\ 77 -0.06\\ 77.5 -0.10\\ 78 -0.05\\ 78.5 0.02\\ 79 0.08\\ 79.5 0.12\\ 80 0.18\\ 80.5 0.24\\ 81 0.30\\ 81.5 0.36\\ 82 0.45\\ 82.5 0.52\\ 83 0.60\\ 83.5 0.68\\ 84 0.75\\ 84.5 0.82\\ 85 0.85\\ 85.5 0.88\\ 86 0.90\\ 86.5 0.88\\ 87 0.90\\ 87.5 0.86\\ 88 0.90\\ 88.5 0.85\\ 89 0.76\\ 89.5 0.60\\ 90 0.42\\ 90.5 0.25\\ 91 0.08\\ 91.5 -0.05\\ 92 -0.15\\ 92.5 -0.25\\ 93 -0.35\\ 93.5 -0.45\\ 94 -0.55\\ 94.5 -0.68\\ 95 -0.80\\ 95.5 -0.92\\ 96 -1.02\\ 96.5 -1.12\\ 97 -1.20\\ 97.5 -1.25\\ 98 -1.28\\ 98.5 -1.26\\ 99 -1.28\\ 99.5 -1.22\\ 100 -1.10\\ 100.5 -1.00\\ 101 -0.90\\ 101.5 -0.80\\ 102 -0.72\\ 102.5 -0.62\\ 103 -0.50\\ 103.5 -0.38\\ 104 -0.25\\ 104.5 -0.12\\ 105 0.02\\ 105.5 0.15\\ 106 0.30\\ 106.5 0.40\\ 107 0.48\\ 107.5 0.55\\ 108 0.52\\ 108.5 0.45\\ 109 0.35\\ 109.5 0.22\\ 110 0.10\\ 110.5 -0.05\\ 111 -0.20\\ 111.5 -0.35\\ 112 -0.50\\ 112.5 -0.65\\ 113 -0.78\\ 113.5 -0.88\\ 114 -0.98\\ 114.5 -1.08\\ 115 -1.12\\ 115.5 -1.18\\ 116 -1.22\\ 116.5 -1.26\\ 117 -1.28\\ 117.5 -1.30\\ 118 -1.27\\ 118.5 -1.30\\ 119 -1.25\\ 119.5 -1.26\\ 120 -1.22\\
};
\addplot[rdb] table[row sep=\\]{x y\\
0 0.50\\ 0.5 0.75\\ 1 1.40\\ 1.5 1.15\\ 2 1.35\\ 2.5 1.30\\ 3 1.15\\ 3.5 1.50\\ 4 1.05\\ 4.5 1.42\\ 5 1.85\\
12.5 2.80\\ 13 2.82\\ 13.5 2.78\\ 14 2.70\\ 14.5 2.60\\ 15 2.45\\ 15.5 2.30\\ 16 2.10\\ 16.5 1.92\\ 17 1.70\\ 17.5 1.45\\ 18 1.05\\ 18.5 0.72\\ 19 0.48\\ 19.5 0.30\\ 20 0.95\\ 20.5 0.75\\ 21 0.55\\ 21.5 0.30\\ 22 0.10\\ 22.5 -0.05\\ 23 -0.25\\ 23.5 -0.35\\ 24 -0.40\\ 24.5 -0.48\\ 25 -0.52\\ 25.5 -0.55\\ 26 -0.52\\ 26.5 -0.60\\ 27 -0.65\\ 27.5 -0.68\\ 28 -0.66\\ 28.5 -0.72\\ 29 -0.70\\ 29.5 -0.75\\ 30 -0.72\\ 30.5 -0.78\\ 31 -0.80\\ 31.5 -0.82\\ 32 -0.85\\ 32.5 -0.90\\ 33 -0.86\\ 33.5 -0.80\\ 34 -0.72\\ 34.5 -0.65\\ 35 -0.60\\ 35.5 -0.55\\ 36 -0.45\\ 36.5 -0.30\\ 37 -0.15\\ 37.5 0.00\\ 38 0.15\\ 38.5 0.30\\ 39 0.42\\ 39.5 0.50\\ 40 0.48\\ 40.5 0.40\\ 41 0.20\\ 41.5 0.05\\ 42 -0.05\\ 42.5 -0.15\\ 43 -0.30\\ 43.5 -0.50\\ 44 -0.68\\ 44.5 -0.85\\ 45 -1.05\\ 45.5 -1.20\\ 46 -1.32\\ 46.5 -1.42\\ 47 -1.52\\ 47.5 -1.62\\ 48 -1.72\\ 48.5 -1.65\\ 49 -1.75\\ 49.5 -1.62\\ 50 -1.70\\ 50.5 -1.78\\ 51 -1.82\\ 51.5 -1.86\\ 52 -1.92\\ 52.5 -1.98\\ 53 -2.05\\ 53.5 -2.10\\ 54 -2.18\\ 54.5 -2.28\\ 55 -2.35\\ 55.5 -2.30\\ 56 -2.15\\ 56.5 -1.85\\ 57 -1.62\\ 57.5 -1.40\\ 58 -1.22\\ 58.5 -1.05\\ 59 -0.90\\ 59.5 -0.70\\ 60 -0.50\\ 60.5 -0.35\\ 61 -0.20\\ 61.5 -0.10\\ 62 -0.02\\ 62.5 0.05\\ 63 0.02\\ 63.5 0.08\\ 64 0.02\\ 64.5 -0.05\\ 65 0.05\\ 65.5 0.00\\ 66 -0.08\\ 66.5 -0.02\\ 67 0.04\\ 67.5 -0.05\\ 68 -0.10\\ 68.5 -0.05\\ 69 -0.08\\ 69.5 -0.02\\ 70 0.02\\ 70.5 -0.04\\ 71 0.05\\ 71.5 0.08\\ 72 0.05\\ 72.5 0.12\\ 73 0.22\\ 73.5 0.30\\ 74 0.35\\ 74.5 0.40\\ 75 0.48\\ 75.5 0.55\\ 76 0.62\\ 76.5 0.70\\ 77 0.78\\ 77.5 0.84\\ 78 0.88\\ 78.5 0.90\\ 79 0.88\\ 79.5 0.92\\ 80 0.90\\ 80.5 0.88\\ 81 0.90\\ 81.5 0.86\\ 82 0.88\\ 82.5 0.82\\ 83 0.70\\ 83.5 0.55\\ 84 0.38\\ 84.5 0.20\\ 85 0.05\\ 85.5 -0.10\\ 86 -0.25\\ 86.5 -0.40\\ 87 -0.55\\ 87.5 -0.70\\ 88 -0.82\\ 88.5 -0.92\\ 89 -1.00\\ 89.5 -1.08\\ 90 -1.15\\ 90.5 -1.20\\ 91 -1.24\\ 91.5 -1.26\\ 92 -1.28\\ 92.5 -1.26\\ 93 -1.22\\ 93.5 -1.15\\ 94 -1.02\\ 94.5 -0.90\\ 95 -0.78\\ 95.5 -0.65\\ 96 -0.52\\ 96.5 -0.40\\ 97 -0.28\\ 97.5 -0.15\\ 98 -0.02\\ 98.5 0.10\\ 99 0.22\\ 99.5 0.32\\ 100 0.40\\ 100.5 0.46\\ 101 0.52\\ 101.5 0.55\\ 102 0.52\\ 102.5 0.45\\ 103 0.35\\ 103.5 0.20\\ 104 0.05\\ 104.5 -0.10\\ 105 -0.25\\ 105.5 -0.40\\ 106 -0.55\\ 106.5 -0.70\\ 107 -0.82\\ 107.5 -0.95\\ 108 -1.05\\ 108.5 -1.12\\ 109 -1.18\\ 109.5 -1.22\\ 110 -1.25\\ 110.5 -1.28\\ 111 -1.26\\ 111.5 -1.28\\ 112 -1.24\\ 112.5 -1.26\\ 113 -1.22\\ 113.5 -1.28\\ 114 -1.20\\ 114.5 -1.15\\ 115 -1.10\\
};
\node[stn] at (rel axis cs:0.983,0.125) {Fujisawa};
\end{axis}

% ---------------- (b) Sugadaira
\begin{axis}[bpanel, bottompanel, at={(731pt,-380.6pt)}]
\addplot[blkb] table[row sep=\\]{x y\\
0 -0.40\\ 0.5 -0.45\\ 1 -0.38\\ 1.5 -0.45\\ 2 -0.40\\ 2.5 -0.36\\ 3 -0.32\\ 3.5 -0.34\\ 4 -0.30\\ 4.5 -0.28\\ 5 -0.30\\ 5.5 -0.26\\ 6 -0.25\\ 6.5 -0.28\\ 7 -0.24\\ 7.5 -0.22\\ 8 -0.26\\ 8.5 -0.24\\ 9 -0.30\\ 9.5 -0.35\\ 10 -0.32\\ 10.5 -0.34\\ 11 -0.30\\ 11.5 -0.25\\ 12 -0.18\\ 12.5 -0.10\\ 13 -0.05\\ 13.5 0.05\\ 14 0.32\\ 14.5 0.15\\ 15 0.22\\ 15.5 0.28\\ 16 0.18\\ 16.5 0.30\\ 17 -0.10\\ 17.5 0.35\\ 18 0.60\\ 18.5 0.85\\ 19 1.05\\ 19.5 1.20\\ 20 1.38\\ 20.5 1.55\\ 21 1.72\\ 21.5 1.88\\ 22 2.00\\ 22.5 2.06\\ 23 2.02\\ 23.5 2.00\\ 24 1.98\\ 24.5 1.96\\ 25 1.92\\ 25.5 1.85\\ 26 1.72\\ 26.5 1.55\\ 27 1.40\\ 27.5 1.28\\ 28 1.20\\ 28.5 1.12\\ 29 1.05\\ 29.5 1.18\\ 30 1.00\\ 30.5 0.98\\ 31 0.92\\ 31.5 0.85\\ 32 0.78\\ 32.5 0.70\\ 33 0.45\\ 33.5 0.25\\ 34 0.10\\ 34.5 -0.02\\ 35 -0.10\\ 35.5 -0.15\\ 36 -0.20\\ 36.5 -0.30\\ 37 -0.38\\ 37.5 -0.45\\ 38 -0.52\\ 38.5 -0.58\\ 39 -0.62\\ 39.5 -0.64\\ 40 -0.66\\ 40.5 -0.68\\ 41 -0.70\\ 41.5 -0.68\\ 42 -0.66\\ 42.5 -0.55\\ 43 -0.42\\ 43.5 -0.30\\ 44 -0.18\\ 44.5 -0.05\\ 45 0.05\\ 45.5 -0.20\\ 46 -0.40\\ 46.5 -0.25\\ 47 -0.15\\ 47.5 -0.05\\ 48 0.05\\ 48.5 0.15\\ 49 0.25\\ 49.5 0.32\\ 50 0.38\\ 50.5 0.42\\ 51 0.45\\ 51.5 0.46\\ 52 0.44\\ 52.5 0.46\\ 53 0.42\\ 53.5 0.40\\ 54 0.36\\ 54.5 0.30\\ 55 0.25\\ 55.5 0.20\\ 56 0.18\\ 56.5 0.12\\ 57 0.05\\ 57.5 0.08\\ 58 -0.02\\ 58.5 -0.12\\ 59 -0.22\\ 59.5 -0.32\\ 60 -0.42\\ 60.5 -0.52\\ 61 -0.58\\ 61.5 -0.65\\ 62 -0.72\\ 62.5 -0.80\\ 63 -0.90\\ 63.5 -1.02\\ 64 -1.12\\ 64.5 -1.22\\ 65 -1.30\\ 65.5 -1.38\\ 66 -1.45\\ 66.5 -1.50\\ 67 -1.55\\ 67.5 -1.58\\ 68 -1.60\\ 68.5 -1.42\\ 69 -1.40\\ 69.5 -1.38\\ 70 -1.30\\ 70.5 -1.20\\ 71 -1.10\\ 71.5 -1.00\\ 72 -0.92\\ 72.5 -0.85\\ 73 -0.78\\ 73.5 -0.70\\ 74 -0.62\\ 74.5 -0.56\\ 75 -0.50\\ 75.5 -0.44\\ 76 -0.38\\ 76.5 -0.32\\ 77 -0.26\\ 77.5 -0.20\\ 78 -0.14\\ 78.5 -0.08\\ 79 0.00\\ 79.5 0.06\\ 80 0.12\\ 80.5 0.18\\ 81 0.24\\ 81.5 0.30\\ 82 0.55\\ 82.5 0.38\\ 83 0.45\\ 83.5 0.52\\ 84 0.60\\ 84.5 0.64\\ 85 0.70\\ 85.5 0.76\\ 86 0.82\\ 86.5 0.92\\ 87 1.02\\ 87.5 1.10\\ 88 1.15\\ 88.5 1.20\\ 89 1.18\\ 89.5 1.12\\ 90 1.05\\ 90.5 0.95\\ 91 0.85\\ 91.5 0.78\\ 92 0.60\\ 92.5 0.40\\ 93 0.20\\ 93.5 0.00\\ 94 -0.18\\ 94.5 -0.40\\ 95 -0.62\\ 95.5 -0.90\\ 96 -1.08\\ 96.5 -1.15\\ 97 -1.18\\ 97.5 -1.20\\ 98 -1.25\\ 98.5 -1.30\\ 99 -1.40\\ 99.5 -1.45\\ 100 -1.48\\ 100.5 -1.42\\ 101 -1.38\\ 101.5 -1.35\\ 102 -1.30\\ 102.5 -1.25\\ 103 -1.18\\ 103.5 -1.10\\ 104 -1.02\\ 104.5 -0.90\\ 105 -0.78\\ 105.5 -0.65\\ 106 -0.52\\ 106.5 -0.40\\ 107 -0.25\\ 107.5 -0.10\\ 108 0.05\\ 108.5 0.18\\ 109 0.28\\ 109.5 0.32\\ 110 0.35\\ 110.5 0.36\\ 111 0.34\\ 111.5 0.35\\ 112 0.30\\ 112.5 0.18\\ 113 0.02\\ 113.5 -0.15\\ 114 -0.30\\ 114.5 -0.42\\ 115 -0.50\\ 115.5 -0.55\\ 116 -0.58\\ 116.5 -0.62\\ 117 -0.65\\ 117.5 -0.68\\ 118 -0.72\\ 118.5 -0.78\\ 119 -0.84\\ 119.5 -0.90\\ 120 -0.95\\
};
\addplot[rdb] table[row sep=\\]{x y\\
0 -0.22\\ 0.5 -0.10\\ 1 0.05\\ 1.5 0.30\\ 2 0.10\\ 2.5 -0.08\\ 3 0.15\\ 3.5 0.20\\ 4 0.12\\ 4.5 0.25\\ 5 0.40\\ 5.5 0.55\\ 6 0.72\\ 6.5 0.88\\ 7 1.05\\ 7.5 1.25\\ 8 1.45\\ 8.5 1.68\\ 9 1.90\\ 9.5 2.04\\ 10 2.02\\ 10.5 1.98\\ 11 2.00\\ 11.5 1.96\\ 12 1.98\\ 12.5 1.94\\ 13 1.88\\ 13.5 1.78\\ 14 1.60\\ 14.5 1.40\\ 15 1.22\\ 15.5 1.12\\ 16 1.05\\ 16.5 0.95\\ 17 1.18\\ 17.5 0.90\\ 18 1.10\\ 18.5 0.72\\ 19 0.55\\ 19.5 0.40\\ 20 0.28\\ 20.5 0.08\\ 21 -0.05\\ 21.5 -0.15\\ 22 -0.22\\ 22.5 -0.18\\ 23 -0.30\\ 23.5 -0.22\\ 24 -0.35\\ 24.5 -0.25\\ 25 -0.32\\ 25.5 -0.40\\ 26 -0.48\\ 26.5 -0.55\\ 27 -0.60\\ 27.5 -0.64\\ 28 -0.68\\ 28.5 -0.70\\ 29 -0.68\\ 29.5 -0.70\\ 30 -0.65\\ 30.5 -0.52\\ 31 -0.40\\ 31.5 -0.30\\ 32 -0.20\\ 32.5 -0.10\\ 33 0.02\\ 33.5 0.08\\ 34 0.05\\ 34.5 -0.20\\ 35 -0.40\\ 35.5 -0.30\\ 36 -0.18\\ 36.5 -0.05\\ 37 0.05\\ 37.5 0.18\\ 38 0.28\\ 38.5 0.36\\ 39 0.42\\ 39.5 0.45\\ 40 0.44\\ 40.5 0.46\\ 41 0.44\\ 41.5 0.42\\ 42 0.38\\ 42.5 0.32\\ 43 0.26\\ 43.5 0.20\\ 44 0.15\\ 44.5 0.05\\ 45 -0.05\\ 45.5 -0.15\\ 46 -0.25\\ 46.5 -0.45\\ 47 -0.30\\ 47.5 -0.38\\ 48 -0.44\\ 48.5 -0.50\\ 49 -0.55\\ 49.5 -0.62\\ 50 -0.70\\ 50.5 -0.80\\ 51 -0.90\\ 51.5 -1.00\\ 52 -1.08\\ 52.5 -1.16\\ 53 -1.22\\ 53.5 -1.35\\ 54 -1.45\\ 54.5 -1.52\\ 55 -1.58\\ 55.5 -1.60\\ 56 -1.44\\ 56.5 -1.42\\ 57 -1.36\\ 57.5 -1.25\\ 58 -1.12\\ 58.5 -1.00\\ 59 -0.90\\ 59.5 -0.82\\ 60 -0.74\\ 60.5 -0.66\\ 61 -0.60\\ 61.5 -0.55\\ 62 -0.50\\ 62.5 -0.45\\ 63 -0.40\\ 63.5 -0.34\\ 64 -0.30\\ 64.5 -0.24\\ 65 -0.18\\ 65.5 -0.12\\ 66 -0.06\\ 66.5 0.00\\ 67 0.05\\ 67.5 0.10\\ 68 0.15\\ 68.5 0.20\\ 69 0.24\\ 69.5 0.28\\ 70 0.32\\ 70.5 0.60\\ 71 0.45\\ 71.5 0.50\\ 72 0.55\\ 72.5 0.52\\ 73 0.60\\ 73.5 0.65\\ 74 0.78\\ 74.5 0.90\\ 75 1.02\\ 75.5 1.12\\ 76 1.20\\ 76.5 1.18\\ 77 1.12\\ 77.5 1.02\\ 78 0.90\\ 78.5 0.75\\ 79 0.58\\ 79.5 0.38\\ 80 0.18\\ 80.5 -0.05\\ 81 -0.30\\ 81.5 -0.55\\ 82 -0.82\\ 82.5 -1.00\\ 83 -1.12\\ 83.5 -1.20\\ 84 -1.26\\ 84.5 -1.24\\ 85 -1.30\\ 85.5 -1.35\\ 86 -1.38\\ 86.5 -1.42\\ 87 -1.48\\ 87.5 -1.40\\ 88 -1.35\\ 88.5 -1.30\\ 89 -1.25\\ 89.5 -1.20\\ 90 -1.12\\ 90.5 -1.05\\ 91 -0.98\\ 91.5 -0.90\\ 92 -0.80\\ 92.5 -0.68\\ 93 -0.50\\ 93.5 -0.32\\ 94 -0.15\\ 94.5 0.05\\ 95 0.22\\ 95.5 0.30\\ 96 0.35\\ 96.5 0.36\\ 97 0.34\\ 97.5 0.25\\ 98 0.10\\ 98.5 -0.02\\ 99 -0.12\\ 99.5 -0.20\\ 100 -0.28\\ 100.5 -0.35\\ 101 -0.40\\ 101.5 -0.45\\ 102 -0.50\\ 102.5 -0.58\\ 103 -0.65\\ 103.5 -0.70\\ 104 -0.75\\ 104.5 -0.82\\ 105 -0.88\\ 105.5 -0.85\\ 106 -0.82\\ 106.5 -0.80\\ 107 -0.84\\ 107.5 -0.78\\ 108 -0.80\\ 108.5 -0.76\\ 109 -0.72\\ 109.5 -0.70\\ 110 -0.66\\ 110.5 -0.62\\ 111 -0.60\\ 111.5 -0.56\\ 112 -0.52\\ 112.5 -0.45\\ 113 -0.40\\ 113.5 -0.34\\ 114 -0.28\\ 114.5 -0.22\\ 115 -0.18\\ 115.5 -0.12\\ 116 -0.06\\ 116.5 0.00\\ 117 0.06\\ 117.5 0.12\\ 118 0.20\\ 118.5 0.10\\ 119 0.15\\ 119.5 0.08\\ 120 0.05\\
};
\node[stn] at (rel axis cs:0.971,0.125) {Sugadaira};
\end{axis}

% ---------------- caption
\begin{scope}[every node/.style={anchor=base west, inner sep=0pt, text=txt, font=\capfont\fontsize{20.5}{25}\selectfont}]
\node at (27pt,-608pt) {\textbf{Fig. 3}\hspace{0.5em}Cross-correlation analysis (i.e., time lag analysis) of the HFD and GPS-TEC data. \textbf{a} The amplitude of reflected radio waves obtained from the};
\node at (27pt,-632.5pt) {three HFD receivers (Sugito, Fujisawa, and Sugadaira) on August 22, 2014, 00:00–02:00 JST. \textbf{b} Vertical GPS-TEC data above the HFD sensing area (i.e.,};
\node at (27pt,-657pt) {mid-points between Tx and Rx stations at Sugito, Fujisawa, and Sugadaira) during the same interval. The black dots are the original data and the red};
\node at (27pt,-681.5pt) {dots are the time-shifted data with the highest correlation coefficient relative to the data at the mid-point of Sugito};
\end{scope}
\end{tikzpicture}
\end{document}
